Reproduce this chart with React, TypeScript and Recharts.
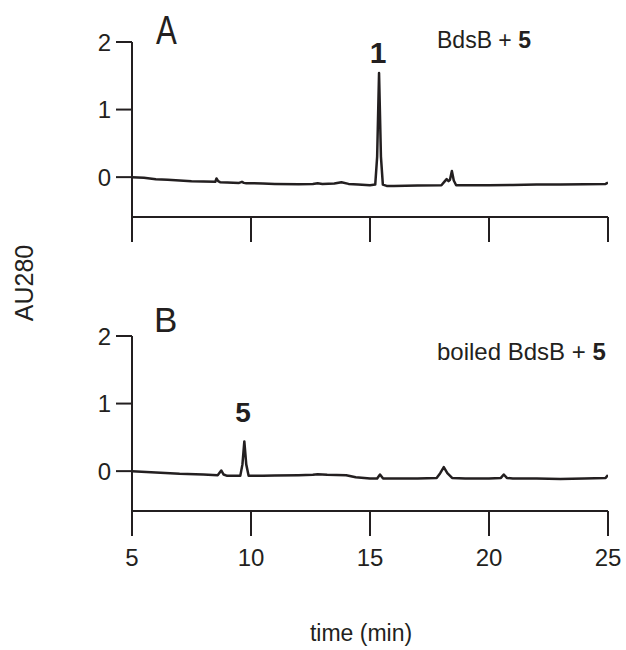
import React from 'react';
import { LineChart, Line, XAxis, YAxis } from 'recharts';

// Panel A: BdsB + 5
const timesA = [5.0, 5.5, 6.0, 6.5, 7.0, 7.5, 8.0, 8.5, 8.55, 8.62, 8.7, 9.0, 9.5, 9.62, 9.7, 9.8, 10.0, 10.5, 11.0, 12.0, 12.6, 12.8, 13.0, 13.5, 13.8, 14.1, 14.5, 15.0, 15.22, 15.3, 15.38, 15.46, 15.54, 15.7, 16.0, 17.0, 18.0, 18.12, 18.22, 18.3, 18.36, 18.44, 18.52, 18.62, 19.0, 20.0, 21.0, 22.0, 23.0, 24.0, 24.9, 25.0];
const auA = [0.0, -0.01, -0.03, -0.04, -0.05, -0.06, -0.065, -0.07, -0.02, -0.06, -0.075, -0.08, -0.085, -0.07, -0.085, -0.09, -0.09, -0.095, -0.1, -0.105, -0.1, -0.09, -0.1, -0.095, -0.075, -0.1, -0.11, -0.12, -0.11, 0.3, 1.54, 0.3, -0.11, -0.13, -0.13, -0.125, -0.12, -0.07, -0.03, -0.06, -0.04, 0.09, -0.05, -0.12, -0.12, -0.12, -0.115, -0.11, -0.11, -0.105, -0.1, -0.08];

// Panel B: boiled BdsB + 5
const timesB = [5.0, 6.0, 7.0, 8.0, 8.6, 8.75, 8.85, 9.0, 9.55, 9.64, 9.72, 9.8, 9.9, 10.5, 11.0, 12.0, 12.6, 12.8, 13.2, 14.0, 14.4, 15.0, 15.3, 15.42, 15.55, 16.0, 17.0, 17.8, 17.95, 18.1, 18.25, 18.45, 19.0, 20.0, 20.5, 20.62, 20.75, 21.0, 22.0, 23.0, 24.0, 24.9, 25.0];
const auB = [0.0, -0.02, -0.04, -0.05, -0.06, 0.01, -0.05, -0.07, -0.07, 0.1, 0.44, 0.1, -0.07, -0.07, -0.065, -0.06, -0.055, -0.045, -0.055, -0.06, -0.09, -0.11, -0.11, -0.05, -0.11, -0.11, -0.11, -0.1, -0.03, 0.06, -0.03, -0.1, -0.11, -0.11, -0.1, -0.05, -0.1, -0.11, -0.11, -0.115, -0.11, -0.1, -0.06];

const xTicks = [5, 10, 15, 20, 25];
const yTicks = [0, 1, 2];
const yDomain = [-0.59, 2];
const xDomain = [5, 25];

const dataA = timesA.map((t, i) => ({ t, v: auA[i] }));
const dataB = timesB.map((t, i) => ({ t, v: auB[i] }));

const INK = '#231f20';
const FONT = '"Liberation Sans", Arial, Helvetica, sans-serif';

function Panel({ data, showLabels, height, top }: { data: { t: number; v: number }[]; showLabels: boolean; height: number; top: number }) {
  const plotH = 175;
  return (
    <div style={{ position: 'absolute', left: 0, top: 0 }}>
      <LineChart
        width={626}
        height={height}
        data={data}
        margin={{ top, right: 18, left: 0, bottom: 0 }}
        style={{ fontFamily: FONT }}
      >
        <XAxis
          type="number"
          dataKey="t"
          domain={xDomain}
          ticks={xTicks}
          allowDataOverflow
          height={height - top - plotH}
          tickSize={25}
          tickMargin={13}
          axisLine={{ stroke: INK, strokeWidth: 2 }}
          tickLine={{ stroke: INK, strokeWidth: 2 }}
          tick={showLabels ? { fill: INK, fontSize: 24 } : () => null}
        />
        <YAxis
          type="number"
          domain={yDomain}
          ticks={yTicks}
          allowDataOverflow
          width={132}
          tickSize={16}
          tickMargin={5}
          axisLine={{ stroke: INK, strokeWidth: 2 }}
          tickLine={{ stroke: INK, strokeWidth: 2 }}
          tick={{ fill: INK, fontSize: 24 }}
        />
        <Line
          type="linear"
          dataKey="v"
          stroke={INK}
          strokeWidth={2.5}
          dot={false}
          strokeLinejoin="round"
          isAnimationActive={false}
        />
      </LineChart>
    </div>
  );
}

export default function App() {
  return (
    <div style={{ position: 'absolute', left: 0, top: 0, width: 626, height: 650, background: '#fff', fontFamily: FONT }}>
      <div style={{ position: 'absolute', left: 0, top: 0, width: 626, height: 250 }}>
        <Panel data={dataA} showLabels={false} height={250} top={42} />
      </div>
      <div style={{ position: 'absolute', left: 0, top: 290, width: 626, height: 360 }}>
        <Panel data={dataB} showLabels={true} height={360} top={46} />
      </div>
      <svg width={626} height={650} style={{ position: 'absolute', left: 0, top: 0, pointerEvents: 'none' }}>
        <g fontFamily={FONT} fill={INK}>
          <text transform="translate(156,44) scale(0.78,1)" fontSize={40}>A</text>
          <text x={154} y={332} fontSize={35}>B</text>
          <text x={437} y={48} fontSize={23}>
            BdsB + <tspan fontWeight="bold">5</tspan>
          </text>
          <text x={437} y={360} fontSize={24}>
            boiled BdsB + <tspan fontWeight="bold">5</tspan>
          </text>
          <text x={378} y={63} fontSize={30} fontWeight="bold" textAnchor="middle">1</text>
          <text x={243} y={422} fontSize={28} fontWeight="bold" textAnchor="middle">5</text>
          <text transform="translate(33,283) rotate(-90)" fontSize={25} textAnchor="middle">AU280</text>
          <text x={361} y={641} fontSize={23} textAnchor="middle">time (min)</text>
        </g>
      </svg>
    </div>
  );
}
